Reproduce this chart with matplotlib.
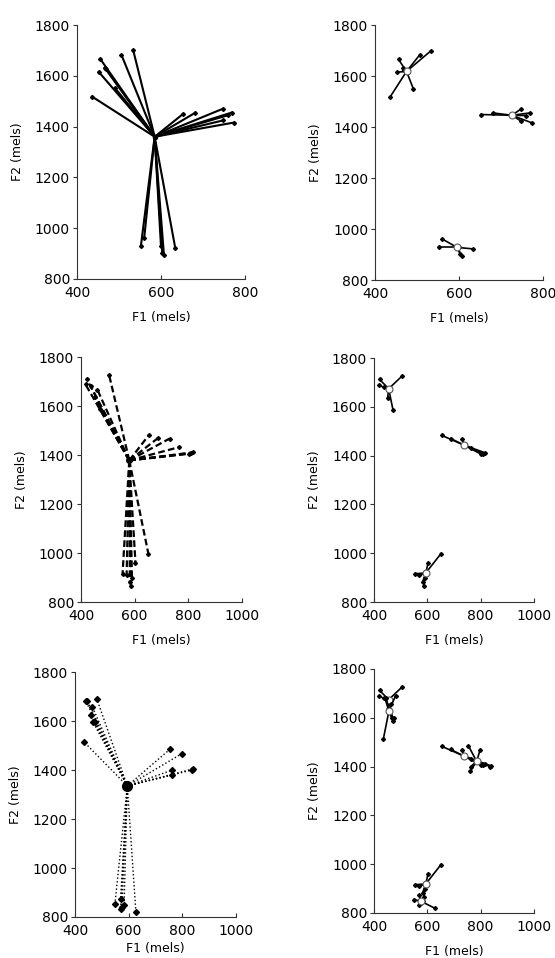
import matplotlib.pyplot as plt

# token F1/F2 values (mels), three vowel categories per set
s1_i_f1 = [436, 452, 456, 466, 470, 491, 506, 534]
s1_i_f2 = [1518, 1615, 1665, 1632, 1625, 1551, 1682, 1700]
s1_a_f1 = [652, 682, 747, 768, 774, 747, 760]
s1_a_f2 = [1449, 1455, 1470, 1455, 1416, 1424, 1445]
s1_u_f1 = [552, 560, 603, 607, 634, 600]
s1_u_f2 = [928, 961, 902, 896, 922, 930]

s2_i_f1 = [421, 417, 436, 451, 461, 471, 505]
s2_i_f2 = [1712, 1688, 1681, 1636, 1667, 1588, 1726]
s2_a_f1 = [654, 688, 730, 765, 803, 818, 810]
s2_a_f2 = [1483, 1470, 1467, 1432, 1405, 1411, 1408]
s2_u_f1 = [651, 603, 555, 570, 582, 586, 590]
s2_u_f2 = [998, 961, 916, 909, 882, 866, 900]

s3_i_f1 = [435, 441, 446, 481, 465, 458, 466, 474]
s3_i_f2 = [1513, 1680, 1682, 1691, 1657, 1625, 1598, 1598]
s3_a_f1 = [754, 797, 763, 760, 835, 838]
s3_a_f2 = [1485, 1466, 1400, 1380, 1400, 1404]
s3_u_f1 = [549, 570, 583, 570, 627, 575]
s3_u_f2 = [855, 875, 848, 834, 820, 840]

# overall centre (left panels) and vowel means (right panels)
centre1 = (585, 1360)
centre2 = (580, 1378)
centre3 = (595, 1335)
means1 = [(475, 1618), (726, 1446), (595, 928)]
means2 = [(455, 1674), (739, 1442), (594, 919)]
means3 = [(456, 1628), (785, 1421), (576, 848)]

set1 = [(s1_i_f1, s1_i_f2), (s1_a_f1, s1_a_f2), (s1_u_f1, s1_u_f2)]
set2 = [(s2_i_f1, s2_i_f2), (s2_a_f1, s2_a_f2), (s2_u_f1, s2_u_f2)]
set3 = [(s3_i_f1, s3_i_f2), (s3_a_f1, s3_a_f2), (s3_u_f1, s3_u_f2)]

plt.rcParams['font.family'] = 'DejaVu Sans'
plt.rcParams['font.size'] = 9

fig = plt.figure(figsize=(5.55, 9.58), dpi=100)
axes = [
    fig.add_axes([0.1387, 0.7088, 0.3027, 0.2651]),
    fig.add_axes([0.6757, 0.7077, 0.3027, 0.2662]),
    fig.add_axes([0.1459, 0.3716, 0.2901, 0.2557]),
    fig.add_axes([0.6739, 0.3716, 0.2883, 0.2547]),
    fig.add_axes([0.1351, 0.0428, 0.2901, 0.2557]),
    fig.add_axes([0.6739, 0.0470, 0.2883, 0.2547]),
]


def star(ax, data, centre, ls, lw, ms, cms):
    for f1, f2 in data:
        for x, y in zip(f1, f2):
            ax.plot([centre[0], x], [centre[1], y], color='black', ls=ls, lw=lw,
                    marker='D', ms=ms, markevery=[1])
    ax.plot(centre[0], centre[1], 'o', color='black', ms=cms)


def clusters(ax, data, means):
    for (f1, f2), m in zip(data, means):
        for x, y in zip(f1, f2):
            ax.plot([m[0], x], [m[1], y], color='black', lw=1.2,
                    marker='D', ms=2, markevery=[1])
        ax.plot(m[0], m[1], 'o', mfc='white', mec='#555555', ms=5, mew=0.8)


star(axes[0], set1, centre1, '-', 1.5, 2, 3)
clusters(axes[1], set1, means1)
star(axes[2], set2, centre2, (0, (3, 1.5)), 1.6, 2, 4)
clusters(axes[3], set2, means2)
star(axes[4], set3, centre3, ':', 1.0, 3, 7)
# bottom right shows both set 2 and set 3 tokens with their own means
clusters(axes[5], set2, means2)
clusters(axes[5], set3, means3)

for i, ax in enumerate(axes):
    xmax = 800 if i < 2 else 1000
    ax.set_xlim(400, xmax)
    ax.set_ylim(800, 1800)
    ax.set_xticks(range(400, xmax + 1, 200))
    ax.set_yticks(range(800, 1801, 200))
    for s in ['top', 'right']:
        ax.spines[s].set_visible(False)
    for s in ['left', 'bottom']:
        ax.spines[s].set_color('#333333')
        ax.spines[s].set_linewidth(0.8)
    ax.tick_params(axis='x', direction='in', length=3, width=0.8, color='#333333', labelsize=10, pad=5)
    ax.tick_params(axis='y', direction='out', length=3, width=0.8, color='#333333', labelsize=10, pad=2)
    ax.set_xlabel('F1 (mels)', fontsize=9, labelpad=3 if i == 4 else 8)
    ax.set_ylabel('F2 (mels)', fontsize=9, labelpad=8)

fig.savefig('out.png', dpi=100)
